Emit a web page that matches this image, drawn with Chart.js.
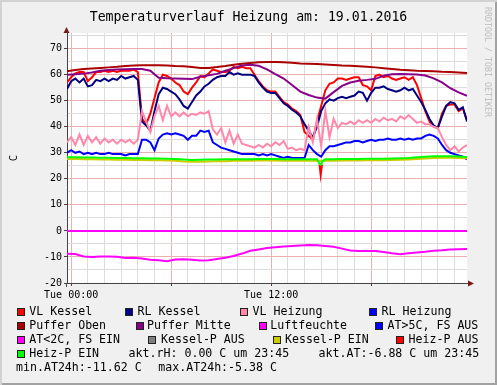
<!DOCTYPE html>
<html><head><meta charset="utf-8">
<script src="https://cdn.jsdelivr.net/npm/chart.js@4/dist/chart.umd.min.js"></script>
<style>
html,body{margin:0;padding:0;background:#f0f0f0;}
#wrap{position:relative;width:497px;height:385px;background:#f0f0f0;overflow:hidden;
 box-shadow: inset 2px 2px 0 #d2d2d2, inset -2px -2px 0 #a2a2a2;}
#c{position:absolute;left:0;top:0;}
.t{position:absolute;font-family:'DejaVu Sans Mono',monospace;color:#000;white-space:pre;line-height:1;}
#title{font-size:13.2px;left:0;width:497px;text-align:center;top:10px;}
.lg{font-size:11.6px;}
.box{position:absolute;width:6px;height:6px;border:1px solid #222;}
#wm{font-size:8.3px;color:#bdbdbd;left:491.5px;top:7px;transform:rotate(90deg);transform-origin:0 0;}
</style></head>
<body><div id="wrap"><canvas id="c" width="497" height="385"></canvas>
<div id="title" class="t">Temperaturverlauf Heizung am: 19.01.2016</div>
<div id="wm" class="t">RRDTOOL / TOBI OETIKER</div>
</div>
<script>
// ---- data (hours relative to Tue 00:00) ----
const xLabelHours = [0, 12];
const xLabelTexts = ['Tue 00:00', 'Tue 12:00'];
const hoursFine = Array.from({length: 97}, (_, i) => -0.25 + i * 0.25);
const hoursHalf = Array.from({length: 49}, (_, i) => -0.25 + i * 0.5);

const vlKessel = [57, 59, 60.5, 61, 61, 57.5, 59, 61,
  61, 61.5, 61, 61.5, 61, 61.5, 61.5, 61.5,
  62, 61, 43, 41, 45, 51, 57, 60,
  59.5, 58.5, 57, 56, 53.5, 52.5, 55, 57,
  59.5, 59, 60.5, 62, 61.5, 61, 61, 61.5,
  63, 62.5, 63, 62.5, 62.5, 60, 57.5, 55.5,
  54, 53.5, 53.5, 51.5, 49.5, 48.5, 47, 46,
  44.5, 38, 36.5, 35, 42, 48, 54, 56.5,
  57, 58.5, 58.5, 58, 58.5, 59, 59, 56,
  55.5, 54, 59.5, 60, 59, 59.5, 58.5, 58,
  58.5, 59, 58, 59, 56, 51, 46, 42,
  40, 39.5, 45, 48, 48.5, 48.5, 46, 47,
  42.5];
const rlKessel = [54.5, 57.5, 58.5, 57, 58.5, 55.5, 56, 58,
  57.5, 58.5, 57.5, 58.5, 58, 59.5, 58.5, 59,
  59.5, 58, 42, 40.5, 38.5, 46, 52.5, 55,
  54.5, 53.5, 52.5, 50.5, 48, 47, 49.5, 52,
  53.5, 55.5, 56.5, 58, 59, 59.5, 59.5, 61,
  60, 60.5, 60, 60, 60, 59.5, 57, 55,
  53.5, 53, 53, 51, 49, 48, 46.5, 45.5,
  44, 41, 38.5, 36, 40, 46, 49, 50.5,
  50, 51, 51.5, 51, 51.5, 52, 53.5, 53,
  50, 53, 55, 55, 55.5, 54.5, 54, 53.5,
  54, 55, 54, 54.5, 52, 49.5, 46.5, 43,
  40.5, 39.5, 44, 48, 49.5, 49, 46.5, 47.5,
  42];
const vlHeizung = [34, 36, 33, 37, 33, 36.5, 34, 36,
  33.5, 35.5, 34, 35, 33.5, 35, 34, 35,
  33.5, 35, 46, 42, 38, 44, 48, 42.5,
  48, 44, 45.5, 44, 45.5, 44, 45, 44.5,
  45.5, 45, 46, 39, 37, 39.5, 34, 38.5,
  33.5, 37, 33.5, 33, 32.5, 32, 33, 32,
  33.5, 32.5, 34, 33, 34.5, 31.5, 32, 31,
  31.5, 31, 40, 34, 43, 32.5, 46, 36,
  43, 39.5, 41.5, 41, 42, 41, 42.5, 41.5,
  42.5, 41.5, 43, 42, 43.5, 42.5, 43, 42,
  44, 43, 44.5, 43, 41.5, 42, 41, 41,
  40, 39.5, 36, 33, 31, 32.5, 30.5, 32,
  33];
const rlHeizung = [30, 31, 30, 30.5, 29.5, 30, 29.5, 30,
  29.5, 29.5, 30, 29.5, 29.5, 29.5, 29, 29.5,
  29.5, 29.5, 35, 35, 34, 31, 35.5, 37,
  37.5, 37, 37.5, 37, 36.5, 35, 36.5, 36.5,
  38.5, 38, 38.5, 34, 33, 32, 31.5, 31,
  30.5, 30, 29.5, 29.5, 29.5, 29.5, 29, 29.5,
  29, 29.5, 29, 28.5, 28, 28.5, 28, 28,
  28, 28, 33, 31, 29.5, 28.5, 31, 32.5,
  32.5, 33, 33.5, 34, 34, 34.5, 34.5, 34,
  34.5, 35, 34.5, 35, 35, 35.5, 35, 35,
  35.5, 35, 35.5, 35, 35.5, 35.5, 36.5, 37,
  36.5, 35.5, 33, 31, 30, 29.5, 29, 28.5,
  27.5];
const pufferOben = [61.3, 61.8, 62.2, 62.4, 62.6, 62.8, 63, 63.3, 63.5, 63.6,
  63.6, 63.6, 63.5, 63.3, 63.2, 62.9, 62.6, 62.6, 62.9, 63.3,
  63.8, 64.2, 64.5, 64.8, 64.9, 64.9, 64.8, 64.6, 64.3, 64.2,
  64.1, 63.9, 63.7, 63.5, 63.4, 63.2, 63, 62.8, 62.5, 62.2,
  61.9, 61.7, 61.5, 61.4, 61.3, 61.1, 61, 60.8, 60.6];
const pufferMitte = [60, 60.2, 60.4, 60.8, 61.5, 61.8, 62, 62.1, 62.2, 62.2,
  61.5, 58.8, 58.6, 58.5, 58.4, 58.3, 59.2, 59.8, 60.3, 61.5,
  62.5, 63.5, 63.8, 63.4, 62, 60.2, 58.5, 56, 53.5, 52.2,
  51.2, 50.8, 53.3, 55.7, 57, 57.7, 58, 58.4, 59.6, 60.2,
  60.3, 60.2, 60.1, 59.7, 58.6, 57, 54.8, 53.2, 51.9];
const luftHours = [-0.25, 6, 12, 18, 23.75];
const luftfeuchte = [0, 0, 0, 0, 0];
const aussenTemp = [-8.8, -8.9, -9.8, -10, -9.8, -9.8, -9.9, -10.4, -10.3, -10.6,
  -11.1, -11.3, -11.6, -11, -10.9, -11.1, -11.4, -11.3, -10.8, -10.3,
  -9.6, -8.7, -7.6, -7.1, -6.6, -6.3, -6, -5.8, -5.6, -5.4,
  -5.5, -5.8, -6.1, -6.8, -7.5, -7.7, -7.7, -7.7, -8.1, -8.6,
  -9, -8.6, -8.3, -8, -7.6, -7.4, -7.1, -7, -6.9];
const kesselPEin = [27.6, 27.6, 27.5, 27.5, 27.4, 27.4, 27.3, 27.3, 27.2, 27.2,
  27.1, 27.1, 27, 26.9, 26.7, 26.6, 26.6, 26.7, 26.8, 26.8,
  26.9, 26.9, 26.9, 27, 27, 27, 26.9, 26.9, 26.9, 26.9,
  26.9, 26.9, 26.9, 27, 27, 27, 27.1, 27.1, 27.1, 27.2,
  27.3, 27.4, 27.6, 27.8, 28, 28.1, 28.1, 28, 27.9];
const heizPEin = [28.3, 28.3, 28.2, 28.2, 28.1, 28.1, 28, 28, 27.9, 27.9,
  27.8, 27.8, 27.7, 27.6, 27.4, 27.2, 27.3, 27.4, 27.4, 27.5,
  27.5, 27.5, 27.5, 27.6, 27.6, 27.6, 27.5, 27.5, 27.5, 27.5,
  27.5, 27.5, 27.5, 27.6, 27.6, 27.6, 27.7, 27.7, 27.7, 27.8,
  27.9, 28, 28.3, 28.5, 28.7, 28.7, 28.7, 28.6, 28.4];
const heizDipHours = [14.85, 14.93, 15.0, 15.08];
const heizDipEin = [26.5, 25.5, 25.5, 26.8];
const heizPAusHours = [14.9, 14.97, 15.05];
const heizPAus = [25.5, 21.5, 25.5];

// legend
const legendNames = ['VL Kessel','RL Kessel','VL Heizung','RL Heizung','Puffer Oben','Puffer Mitte','Luftfeuchte','AT>5C, FS AUS','AT<2C, FS EIN','Kessel-P AUS','Kessel-P EIN','Heiz-P AUS','Heiz-P EIN'];
const legendColors = ['#ff0000','#000080','#ff88aa','#0000ff','#aa0000','#880088','#ff00ff','#0000ff','#ff00ff','#808080','#cccc00','#ff0000','#00ff00'];
const legendBoxX = [17,125,240,369, 17,136,259,375, 17,147.7,272.7,396, 17];
const legendTextX = [30,138.3,253.3,382.3, 30,147.7,271,388.3, 30,161.7,285.7,409.3, 30];
const legendRowY = [311.3,325.3,339.3,353.3,367.3];
const infoTexts = ['akt.rH: 0.00 C um 23:45','akt.AT:-6.88 C um 23:45','min.AT24h:-11.62 C','max.AT24h:-5.38 C'];
const infoX = [129.3, 319.3, 16.7, 159];
const infoRow = [3, 3, 4, 4];

const wrap = document.getElementById('wrap');
function addText(txt, x, cy){
  const d = document.createElement('div'); d.className = 't lg'; d.textContent = txt;
  d.style.left = (x - 0.7) + 'px'; d.style.top = (cy - 5.6) + 'px'; wrap.appendChild(d);
}
legendNames.forEach((n, i) => {
  const row = Math.floor(i / 4), cy = legendRowY[row];
  const b = document.createElement('div'); b.className = 'box';
  b.style.left = legendBoxX[i] + 'px'; b.style.top = Math.round(cy - 3.3) + 'px';
  b.style.background = legendColors[i]; wrap.appendChild(b);
  addText(n, legendTextX[i], cy);
});
infoTexts.forEach((t, i) => addText(t, infoX[i], legendRowY[infoRow[i]]));

// ---- chart ----
function zip(xs, ys){ return xs.map((x, i) => ({x: x, y: ys[i]})); }
function merge(a, b){ return a.concat(b).sort((p, q) => p.x - q.x); }
const series = [
  {label: 'VL Kessel', data: zip(hoursFine, vlKessel), color: '#ff0000'},
  {label: 'RL Kessel', data: zip(hoursFine, rlKessel), color: '#000080'},
  {label: 'VL Heizung', data: zip(hoursFine, vlHeizung), color: '#ff88aa'},
  {label: 'RL Heizung', data: zip(hoursFine, rlHeizung), color: '#0000ff'},
  {label: 'Puffer Oben', data: zip(hoursHalf, pufferOben), color: '#aa0000'},
  {label: 'Puffer Mitte', data: zip(hoursHalf, pufferMitte), color: '#880088'},
  {label: 'Luftfeuchte', data: zip(luftHours, luftfeuchte), color: '#ff00ff'},
  {label: 'AT<2C, FS EIN', data: zip(hoursHalf, aussenTemp), color: '#ff00ff'},
  {label: 'Kessel-P EIN', data: zip(hoursHalf, kesselPEin), color: '#cccc00'},
  {label: 'Heiz-P AUS', data: zip(heizPAusHours, heizPAus), color: '#ff0000'},
  {label: 'Heiz-P EIN', data: merge(zip(hoursHalf, heizPEin), zip(heizDipHours, heizDipEin)), color: '#00ff00'}
];
const datasets = series.map((s, i) => ({
  label: s.label, data: s.data, borderColor: s.color, backgroundColor: s.color,
  borderWidth: 2, pointRadius: 0, tension: 0, fill: false, order: -i
}));

const AXIS = '#444444', GMIN = '#dcdcdc', GMAJ = '#e8b0b0', ARROW = '#7a1a1a';
const xTicks = Array.from({length: 24}, (_, i) => i);
const yTicks = Array.from({length: 20}, (_, i) => -20 + i * 5);
const mono = "'DejaVu Sans Mono', monospace";

const plug = {
  id: 'rrd',
  beforeDraw(chart){
    const {ctx, chartArea: a} = chart;
    ctx.save(); ctx.fillStyle = '#ffffff';
    ctx.fillRect(a.left, a.top, a.right - a.left, a.bottom - a.top); ctx.restore();
  },
  afterDraw(chart){
    const {ctx, chartArea: a} = chart;
    ctx.save();
    ctx.strokeStyle = AXIS; ctx.lineWidth = 1;
    ctx.beginPath(); ctx.moveTo(a.right, a.bottom + 0.5); ctx.lineTo(a.right + 4, a.bottom + 0.5); ctx.stroke();
    ctx.beginPath(); ctx.moveTo(a.left - 0.5, a.top); ctx.lineTo(a.left - 0.5, a.top - 3); ctx.stroke();
    ctx.beginPath(); ctx.moveTo(a.left - 0.5, a.bottom); ctx.lineTo(a.left - 0.5, a.bottom + 4); ctx.stroke();
    ctx.fillStyle = ARROW;
    ctx.beginPath(); ctx.moveTo(a.right + 7, a.bottom + 0.5); ctx.lineTo(a.right + 1, a.bottom - 2.5); ctx.lineTo(a.right + 1, a.bottom + 3.5); ctx.closePath(); ctx.fill();
    ctx.beginPath(); ctx.moveTo(a.left - 0.5, a.top - 6); ctx.lineTo(a.left - 3.5, a.top); ctx.lineTo(a.left + 2.5, a.top); ctx.closePath(); ctx.fill();
    ctx.restore();
  }
};

new Chart(document.getElementById('c'), {
  type: 'line',
  data: {datasets: datasets},
  plugins: [plug],
  options: {
    responsive: false, animation: false, devicePixelRatio: 1,
    layout: {padding: {left: 0, top: 33, right: 30, bottom: 82}},
    plugins: {legend: {display: false}, tooltip: {enabled: false}, title: {display: false}},
    elements: {point: {radius: 0}, line: {tension: 0}},
    scales: {
      x: {
        type: 'linear', min: -0.25, max: 23.75,
        afterBuildTicks: s => { s.ticks = xTicks.map(v => ({value: v})); },
        afterFit: s => { s.height = 20; },
        ticks: {autoSkip: false, maxRotation: 0, minRotation: 0, padding: 3, color: '#000',
          font: {family: mono, size: 10},
          callback: v => { const k = xLabelHours.indexOf(v); return k >= 0 ? xLabelTexts[k] : ''; }},
        grid: {color: c => (c.tick && c.tick.value % 6 === 0) ? GMAJ : GMIN,
          tickColor: c => (c.tick && c.tick.value % 6 === 0) ? AXIS : 'rgba(0,0,0,0)',
          tickLength: 3, lineWidth: 1},
        border: {color: AXIS, width: 1}
      },
      y: {
        type: 'linear', min: -20, max: 76,
        afterBuildTicks: s => { s.ticks = yTicks.map(v => ({value: v})); },
        afterFit: s => { s.width = 67; },
        ticks: {autoSkip: false, padding: 2, color: '#000', font: {family: mono, size: 10},
          callback: v => (v % 10 === 0) ? String(v) : ''},
        grid: {color: c => (c.tick && c.tick.value % 10 === 0) ? GMAJ : GMIN,
          tickColor: c => (c.tick && c.tick.value % 10 === 0) ? AXIS : 'rgba(0,0,0,0)',
          tickLength: 3, lineWidth: 1},
        border: {color: AXIS, width: 1},
        title: {display: true, text: 'C', color: '#000', font: {family: mono, size: 10.5}, padding: {top: 8, bottom: 0}}
      }
    }
  }
});
</script>
</body></html>
